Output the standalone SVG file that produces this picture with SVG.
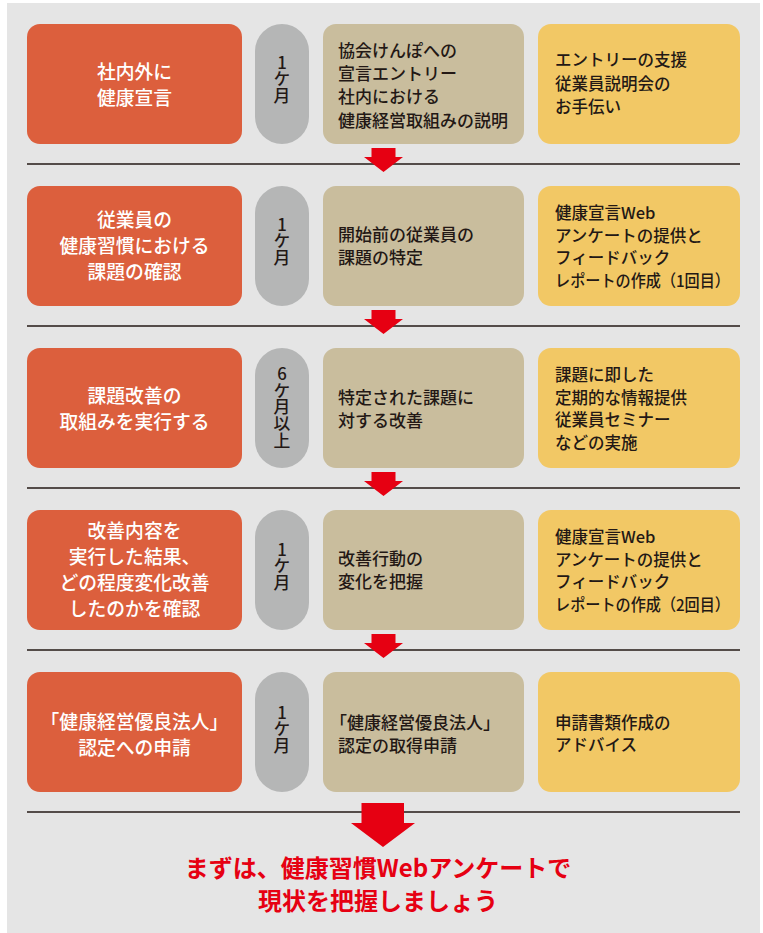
<svg xmlns="http://www.w3.org/2000/svg" width="763" height="933" viewBox="0 0 763 933">
<style>
text{font-family:"Noto Sans CJK JP","Noto Sans",sans-serif;}
.o{fill:#DC5F3D;}
.p{fill:#B5B6B6;}
.t{fill:#C9BD9D;}
.y{fill:#F2C865;}
.ot{fill:#fff;font-size:18.8px;font-weight:500;text-anchor:middle;}
.pt{fill:#231815;font-size:16.8px;font-weight:500;text-anchor:middle;writing-mode:vertical-rl;text-orientation:upright;}
.tt{fill:#231815;font-size:17px;font-weight:500;}
.yt{fill:#231815;font-size:16.5px;font-weight:500;}
.sep{stroke:#231815;stroke-width:1.3;fill:none;}
.arr{fill:#E60012;}
.head{fill:#E60012;font-size:24px;font-weight:700;text-anchor:middle;}
</style>
<rect x="7" y="3" width="753" height="930" fill="#E5E5E5"/>

<g id="row1">
<rect class="o" x="27" y="24" width="215" height="120" rx="13"/>
<text class="ot"><tspan x="134.5" y="78.5">社内外に</tspan><tspan x="134.5" y="104.5">健康宣言</tspan></text>
<rect class="p" x="255" y="24" width="54" height="120" rx="27"/>
<text class="pt" x="282" y="79">1ケ月</text>
<rect class="t" x="323" y="24" width="201" height="120" rx="13"/>
<text class="tt"><tspan x="338" y="57">協会けんぽへの</tspan><tspan x="338" y="80.2">宣言エントリー</tspan><tspan x="338" y="103.4">社内における</tspan><tspan x="338" y="126.6">健康経営取組みの説明</tspan></text>
<rect class="y" x="538" y="24" width="202" height="120" rx="13"/>
<text class="yt"><tspan x="555" y="66">エントリーの支援</tspan><tspan x="555" y="89.5">従業員説明会の</tspan><tspan x="555" y="113">お手伝い</tspan></text>
</g>

<g id="row2">
<rect class="o" x="27" y="186" width="215" height="120" rx="13"/>
<text class="ot"><tspan x="134.5" y="226.7">従業員の</tspan><tspan x="134.5" y="252.7">健康習慣における</tspan><tspan x="134.5" y="278.7">課題の確認</tspan></text>
<rect class="p" x="255" y="186" width="54" height="120" rx="27"/>
<text class="pt" x="282" y="241">1ケ月</text>
<rect class="t" x="323" y="186" width="201" height="120" rx="13"/>
<text class="tt"><tspan x="338" y="240.7">開始前の従業員の</tspan><tspan x="338" y="263.9">課題の特定</tspan></text>
<rect class="y" x="538" y="186" width="202" height="120" rx="13"/>
<text class="yt"><tspan x="555" y="219">健康宣言Web</tspan><tspan x="555" y="241.7">アンケートの提供と</tspan><tspan x="555" y="264.4">フィードバック</tspan></text>
<text class="yt" x="555" y="287.1" textLength="175" lengthAdjust="spacingAndGlyphs">レポートの作成（1回目）</text>
</g>

<g id="row3">
<rect class="o" x="27" y="348" width="215" height="120" rx="13"/>
<text class="ot"><tspan x="134.5" y="402.5">課題改善の</tspan><tspan x="134.5" y="428.5">取組みを実行する</tspan></text>
<rect class="p" x="255" y="348" width="54" height="120" rx="27"/>
<text class="pt" x="282" y="407">6ケ月以上</text>
<rect class="t" x="323" y="348" width="201" height="120" rx="13"/>
<text class="tt"><tspan x="338" y="403.7">特定された課題に</tspan><tspan x="338" y="426.9">対する改善</tspan></text>
<rect class="y" x="538" y="348" width="202" height="120" rx="13"/>
<text class="yt"><tspan x="555" y="381">課題に即した</tspan><tspan x="555" y="403.7">定期的な情報提供</tspan><tspan x="555" y="426.4">従業員セミナー</tspan><tspan x="555" y="449.1">などの実施</tspan></text>
</g>

<g id="row4">
<rect class="o" x="27" y="510" width="215" height="120" rx="13"/>
<text class="ot"><tspan x="134.5" y="537.7">改善内容を</tspan><tspan x="134.5" y="563.7">実行した結果、</tspan><tspan x="134.5" y="589.7">どの程度変化改善</tspan><tspan x="134.5" y="615.7">したのかを確認</tspan></text>
<rect class="p" x="255" y="510" width="54" height="120" rx="27"/>
<text class="pt" x="282" y="566">1ケ月</text>
<rect class="t" x="323" y="510" width="201" height="120" rx="13"/>
<text class="tt"><tspan x="338" y="564.7">改善行動の</tspan><tspan x="338" y="587.9">変化を把握</tspan></text>
<rect class="y" x="538" y="510" width="202" height="120" rx="13"/>
<text class="yt"><tspan x="555" y="543">健康宣言Web</tspan><tspan x="555" y="565.7">アンケートの提供と</tspan><tspan x="555" y="588.4">フィードバック</tspan></text>
<text class="yt" x="555" y="611.1" textLength="175" lengthAdjust="spacingAndGlyphs">レポートの作成（2回目）</text>
</g>

<g id="row5">
<rect class="o" x="27" y="672" width="215" height="120" rx="13"/>
<text class="ot"><tspan x="134.5" y="728.5">「健康経営優良法人」</tspan><tspan x="134.5" y="754.5">認定への申請</tspan></text>
<rect class="p" x="255" y="672" width="54" height="120" rx="27"/>
<text class="pt" x="282" y="729">1ケ月</text>
<rect class="t" x="323" y="672" width="201" height="120" rx="13"/>
<text class="tt"><tspan x="330" y="728.5">「健康経営優良法人」</tspan><tspan x="338" y="751.7">認定の取得申請</tspan></text>
<rect class="y" x="538" y="672" width="202" height="120" rx="13"/>
<text class="yt"><tspan x="555" y="728.5">申請書類作成の</tspan><tspan x="555" y="751.2">アドバイス</tspan></text>
</g>

<g id="connectors">
<line class="sep" x1="27" y1="164" x2="740" y2="164"/>
<line class="sep" x1="27" y1="326" x2="740" y2="326"/>
<line class="sep" x1="27" y1="488" x2="740" y2="488"/>
<line class="sep" x1="27" y1="650" x2="740" y2="650"/>
<line class="sep" x1="27" y1="812" x2="740" y2="812"/>
<polygon class="arr" points="371.5,148 395.5,148 395.5,157 403,157 383.5,172 364,157 371.5,157"/>
<polygon class="arr" points="371.5,310 395.5,310 395.5,319 403,319 383.5,334 364,319 371.5,319"/>
<polygon class="arr" points="371.5,472 395.5,472 395.5,481 403,481 383.5,496 364,481 371.5,481"/>
<polygon class="arr" points="371.5,634 395.5,634 395.5,643 403,643 383.5,658 364,643 371.5,643"/>
<polygon class="arr" points="361.5,803 404,803 404,823 415,823 383,847 351,823 361.5,823"/>
</g>

<g id="message">
<text class="head" x="378" y="877">まずは、健康習慣Webアンケートで</text>
<text class="head" x="378" y="910">現状を把握しましょう</text>
</g>
</svg>
